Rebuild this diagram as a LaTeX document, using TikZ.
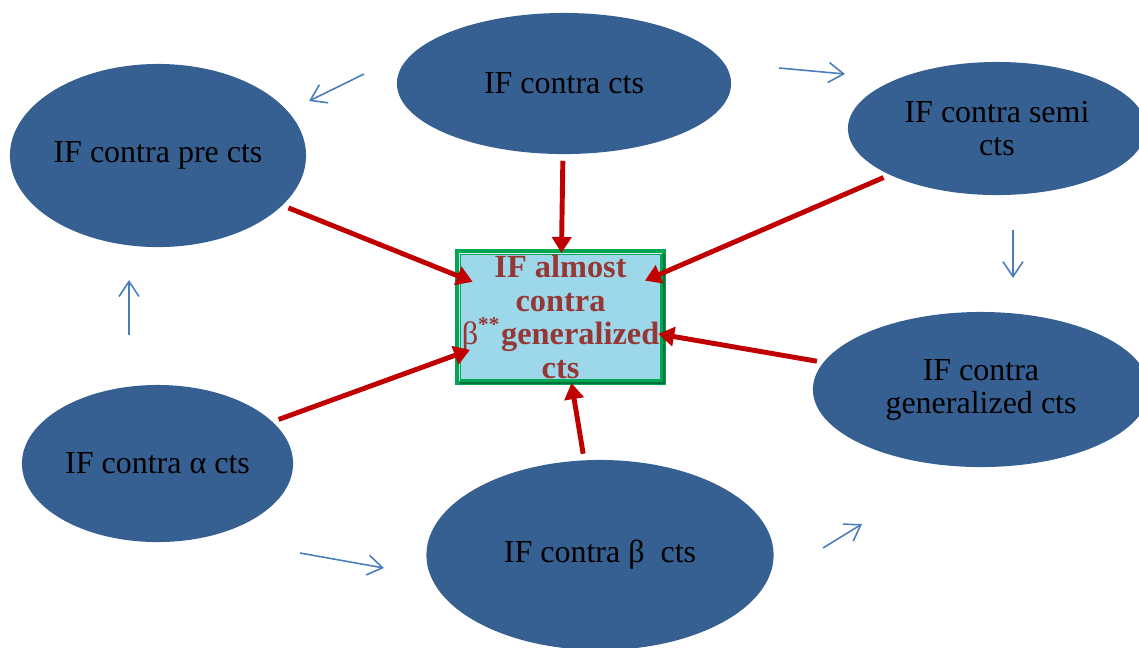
\documentclass[tikz,border=0pt]{standalone}
\usepackage{fontspec}
\setmainfont{Liberation Serif}
\usepackage{tikz}
\usetikzlibrary{arrows.meta, positioning, shapes.geometric}
\usepackage{xcolor}
\definecolor{bubbleblue}{HTML}{376092}
\definecolor{feedred}{HTML}{C00000}
\definecolor{linkblue}{HTML}{4A7EBB}
\definecolor{hubgreen}{HTML}{00A650}
\definecolor{hubdark}{HTML}{00703A}
\definecolor{hubfill}{HTML}{9DD8EA}
\definecolor{hubtext}{HTML}{953735}
\tikzset{%
	every bubble/.style={
		ellipse,
		fill=bubbleblue,
		inner sep=0pt,
		align=center,
		font=\fontsize{9.1}{9.4}\selectfont
	},
	hub box/.style={
		rectangle,
		draw=hubgreen,
		line width=1.7pt,
		fill=hubfill,
		minimum width=2.05cm,
		minimum height=1.3cm,
		inner sep=0pt,
		align=center,
		text=hubtext,
		font=\fontsize{9.2}{9.5}\selectfont\bfseries
	},
	feed arrow/.style={
		draw=feedred,
		line width=1.4pt,
		-{Triangle[length=1.6mm, width=1.9mm]},
		shorten <=0.6mm
	},
	link arrow/.style={
		draw=linkblue,
		line width=0.45pt,
		-{Straight Barb[length=1.5mm, width=2mm]}
	},
}

\begin{document}
\begin{tikzpicture}[x=0.01cm, y=-0.01cm]
	\useasboundingbox (0,0) rectangle (1139,647);
	
	% Draw hub box
	\node[hub box] (hub) at (560.5,317) {IF almost\\contra\\{\mdseries β}\textsuperscript{\fontsize{6}{6}\selectfont **}generalized\\cts};
	\draw[hubdark, line width=0.7pt] ([xshift=0.5mm, yshift=0.2mm]hub.south west) -| ([xshift=-0.2mm, yshift=-0.5mm]hub.north east);  % shade
	\draw[white!55!hubfill, line width=0.5pt] ([xshift=0.45mm, yshift=0.45mm]hub.south west) |- ([xshift=-0.45mm, yshift=-0.45mm]hub.north east);  % bevel
	
	% Draw the six bubbles
	\node[every bubble, minimum width=3.34cm, minimum height=1.41cm] (contra) at (564,83.5) {IF contra cts};
	\node[every bubble, minimum width=2.96cm, minimum height=1.83cm] (pre) at (158,155.5) {IF contra pre cts};
	\node[every bubble, minimum width=2.98cm, minimum height=1.33cm] (semi) at (997,128.5) {IF contra semi\\cts};
	\node[every bubble, minimum width=3.36cm, minimum height=1.55cm] (gen) at (981,389.5) {IF contra\\generalized cts};
	\node[every bubble, minimum width=2.71cm, minimum height=1.57cm] (alpha) at (157.5,463.5) {IF contra α cts};
	\node[every bubble, minimum width=3.47cm, minimum height=1.90cm] (beta) at (600,555) {IF contra β~ cts};
	
	% Feed arrows into hub
	\draw[feed arrow, shorten >=-0.4mm] (contra) -- (hub);
	\draw[feed arrow, shorten >=-1.9mm] (pre) -- (hub);
	\draw[feed arrow, shorten >=-2.3mm] (semi) -- (hub);
	\draw[feed arrow, shorten >=-0.8mm] (gen) -- (hub);
	\draw[feed arrow, shorten >=-1.6mm] (alpha) -- (hub);
	\draw[feed arrow, shorten >=-0.2mm] (beta) -- (hub);
	
	% Link arrows between bubbles
	\coordinate (toPreA) at (364,74);
	\coordinate (toPreB) at (309,101);
	\coordinate (toSemiA) at (779,68);
	\coordinate (toSemiB) at (845,74);
	\coordinate (toGenA) at (1013,230);
	\coordinate (toGenB) at (1013,278);
	\coordinate (upPreA) at (129,335);
	\coordinate (upPreB) at (129,280);
	\coordinate (toBetaA) at (300,553);
	\coordinate (toBetaB) at (384,568);
	\coordinate (fromBetaA) at (823,548);
	\coordinate (fromBetaB) at (862,524);
	\draw[link arrow] (toPreA) -- (toPreB);
	\draw[link arrow] (toSemiA) -- (toSemiB);
	\draw[link arrow] (toGenA) -- (toGenB);
	\draw[link arrow] (upPreA) -- (upPreB);
	\draw[link arrow] (toBetaA) -- (toBetaB);
	\draw[link arrow] (fromBetaA) -- (fromBetaB);
	
\end{tikzpicture}
\end{document}
